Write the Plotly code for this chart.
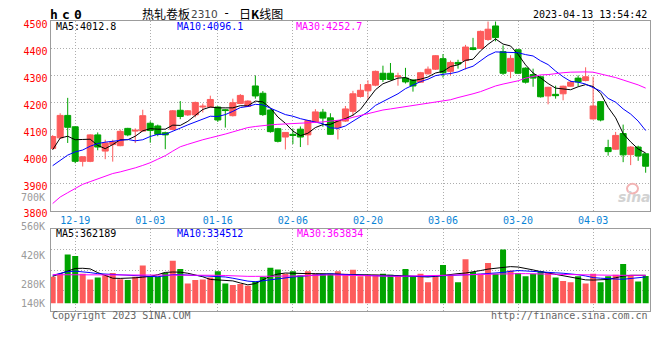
import plotly.graph_objects as go

# ---------------- data ----------------
DATES = [
    "2022-12-14", "2022-12-15", "2022-12-16", "2022-12-19", "2022-12-20", "2022-12-21", "2022-12-22", "2022-12-23",
    "2022-12-26", "2022-12-27", "2022-12-28", "2022-12-29", "2022-12-30",
    "2023-01-03", "2023-01-04", "2023-01-05", "2023-01-06", "2023-01-09", "2023-01-10", "2023-01-11", "2023-01-12",
    "2023-01-13", "2023-01-16", "2023-01-17", "2023-01-18", "2023-01-19", "2023-01-20", "2023-01-30", "2023-01-31",
    "2023-02-01", "2023-02-02", "2023-02-03", "2023-02-06", "2023-02-07", "2023-02-08", "2023-02-09", "2023-02-10",
    "2023-02-13", "2023-02-14", "2023-02-15", "2023-02-16", "2023-02-17", "2023-02-20", "2023-02-21", "2023-02-22",
    "2023-02-23", "2023-02-24", "2023-02-27", "2023-02-28",
    "2023-03-01", "2023-03-02", "2023-03-03", "2023-03-06", "2023-03-07", "2023-03-08", "2023-03-09", "2023-03-10",
    "2023-03-13", "2023-03-14", "2023-03-15", "2023-03-16", "2023-03-17", "2023-03-20", "2023-03-21", "2023-03-22",
    "2023-03-23", "2023-03-24", "2023-03-27", "2023-03-28", "2023-03-29", "2023-03-30", "2023-03-31",
    "2023-04-03", "2023-04-04", "2023-04-06", "2023-04-07", "2023-04-10", "2023-04-11", "2023-04-12", "2023-04-13",
]

OPEN = [4030, 4069, 4152, 4110, 3982, 3982, 4080, 4020, 4044, 4040, 4104, 4094, 4094,
        4123, 4113, 4088, 4100, 4171, 4154, 4154, 4183, 4183, 4183, 4173, 4151, 4196, 4185, 4261, 4234,
        4172, 4103, 4072, 4082, 4101, 4080, 4128, 4164, 4143, 4107, 4131, 4167, 4222, 4243, 4264, 4308,
        4308, 4295, 4290, 4283,
        4275, 4306, 4323, 4362, 4315, 4348, 4355, 4402, 4400, 4433, 4483, 4388, 4315, 4395, 4327, 4303,
        4295, 4224, 4230, 4232, 4260, 4290, 4281,
        4139, 4203, 4033, 4027, 4085, 4007, 4035, 4010]
HIGH = [4079, 4160, 4217, 4112, 4001, 4082, 4089, 4062, 4062, 4100, 4106, 4104, 4173,
        4130, 4118, 4092, 4172, 4205, 4172, 4203, 4196, 4225, 4186, 4176, 4214, 4231, 4208, 4299, 4242,
        4175, 4106, 4090, 4104, 4111, 4135, 4175, 4176, 4160, 4135, 4187, 4243, 4268, 4282, 4318, 4336,
        4346, 4310, 4328, 4285,
        4313, 4333, 4375, 4379, 4355, 4358, 4413, 4439, 4466, 4500, 4500, 4411, 4375, 4397, 4330, 4325,
        4298, 4258, 4262, 4262, 4282, 4300, 4330,
        4295, 4205, 4062, 4091, 4118, 4038, 4040, 4012]
LOW = [4026, 4065, 4050, 3975, 3963, 3979, 4023, 3990, 3981, 4038, 4075, 4050, 4092,
       4051, 4075, 4027, 4097, 4138, 4150, 4145, 4163, 4180, 4128, 4107, 4148, 4194, 4183, 4214, 4150,
       4088, 4052, 4026, 4046, 4035, 4042, 4126, 4110, 4080, 4063, 4128, 4150, 4218, 4213, 4260, 4276,
       4282, 4262, 4270, 4240,
       4272, 4303, 4320, 4292, 4300, 4325, 4322, 4393, 4398, 4428, 4426, 4302, 4290, 4305, 4270, 4258,
       4218, 4193, 4214, 4208, 4258, 4260, 4278,
       4137, 4130, 4003, 4025, 3979, 3968, 3984, 3940]
CLOSE = [4074, 4152, 4108, 3982, 3999, 4080, 4035, 4050, 4054, 4093, 4080, 4097, 4151,
         4096, 4082, 4080, 4169, 4148, 4169, 4200, 4186, 4211, 4135, 4170, 4199, 4226, 4205, 4224, 4155,
         4092, 4056, 4089, 4078, 4072, 4133, 4165, 4142, 4082, 4133, 4176, 4232, 4245, 4266, 4315, 4285,
         4285, 4298, 4276, 4261,
         4310, 4323, 4373, 4310, 4348, 4342, 4405, 4396, 4463, 4471, 4440, 4308, 4363, 4308, 4275, 4290,
         4221, 4256, 4225, 4260, 4275, 4276, 4295,
         4187, 4135, 4018, 4078, 4006, 4035, 4002, 3964]

MA5 = [4025, 4068, 4075, 4062, 4063, 4064, 4041, 4029, 4044, 4062, 4062, 4075, 4095,
       4103, 4101, 4101, 4116, 4115, 4130, 4153, 4174, 4183, 4180, 4180, 4180, 4188, 4187, 4205, 4202,
       4180, 4146, 4123, 4094, 4077, 4086, 4107, 4118, 4119, 4131, 4140, 4153, 4174, 4210, 4247, 4269,
       4279, 4290, 4292, 4281,
       4286, 4294, 4309, 4315, 4333, 4339, 4356, 4360, 4391, 4415, 4435, 4416, 4409, 4378, 4339, 4309,
       4291, 4270, 4253, 4250, 4247, 4258, 4266,
       4259, 4234, 4182, 4143, 4085, 4054, 4028, 4013]
MA10 = [3966, 3985, 4005, 4017, 4024, 4038, 4048, 4053, 4056, 4060, 4063, 4058, 4062,
        4074, 4082, 4082, 4095, 4105, 4117, 4127, 4138, 4149, 4148, 4155, 4167, 4181, 4185, 4193, 4191,
        4180, 4167, 4155, 4149, 4140, 4133, 4127, 4121, 4106, 4104, 4113, 4130, 4146, 4165, 4189, 4204,
        4216, 4232, 4251, 4264,
        4277, 4286, 4299, 4304, 4307, 4313, 4325, 4334, 4353, 4374, 4387, 4386, 4385, 4384, 4377, 4372,
        4354, 4340, 4316, 4295, 4278, 4275, 4268,
        4256, 4242, 4215, 4201, 4176, 4157, 4131, 4096]
MA30 = [3826, 3850, 3866, 3882, 3897, 3907, 3917, 3927, 3937, 3943, 3950, 3958, 3967,
        3977, 3990, 4003, 4020, 4036, 4045, 4054, 4062, 4069, 4075, 4083, 4091, 4099, 4107, 4111, 4115,
        4117, 4119, 4120, 4121, 4123, 4125, 4126, 4128, 4131, 4134, 4137, 4145, 4152, 4160, 4167, 4172,
        4176, 4180, 4184, 4188,
        4192, 4196, 4200, 4204, 4210, 4218, 4224, 4232, 4240, 4250, 4261, 4268, 4275, 4280, 4290, 4296,
        4302, 4303, 4307, 4310, 4312, 4313, 4313,
        4312, 4306, 4299, 4292, 4283, 4275, 4265, 4253]

VOLUME = [314500, 330000, 423000, 415000, 330000, 302000, 311000, 322000, 333000, 303000, 299000, 314500, 369000,
          317000, 314500, 334600, 392000, 353000, 283000, 299000, 302000, 311000, 341000, 283000, 275000, 280000,
          271000, 292600, 314500,
          358000, 350000, 330000, 341000, 322000, 341000, 330000, 330000, 330000, 341000, 330000, 348600, 317000,
          325000, 325000, 330000, 325000, 322000, 353000, 317000,
          330000, 288000, 317000, 372000, 322000, 288000, 400000, 338000, 330000, 381000, 330000, 446600, 345000,
          333000, 317000, 330000, 342500, 333000, 311000, 294000, 288000, 317000, 283000,
          330000, 288000, 317000, 325000, 376600, 322000, 292600, 319000]
VOL_MA5 = [317000, 330000, 340000, 355000, 356000, 353000, 335000, 322000, 308000, 307000, 307000, 310000, 313000,
           317000, 325000, 336000, 338000, 337000, 332000, 325000, 315000, 302000, 300000, 298000, 295000, 285000,
           276000, 282000, 298000,
           318000, 328000, 333000, 332000, 330000, 330000, 330000, 330000, 330000, 328000, 326000, 326000, 325000,
           325000, 325000, 323000, 322000, 321000, 320000, 318000,
           316000, 314000, 317000, 322000, 327000, 330000, 333000, 338000, 345000, 352000, 356000, 362000, 364000,
           362000, 356000, 348000, 340000, 333000, 326000, 320000, 313000, 306000, 300000,
           299000, 300000, 302000, 310000, 318000, 322000, 322000, 322000]
VOL_MA10 = [322000, 330000, 340000, 342000, 340000, 335000, 330000, 328000, 326000, 324000, 322000, 320000, 318000,
            316000, 315000, 320000, 325000, 325000, 323000, 322000, 320000, 318000, 316000, 314000, 308000, 300000,
            294000, 291000, 296000,
            302000, 306000, 310000, 314000, 317000, 320000, 322000, 325000, 329000, 327000, 325000, 323000, 322000,
            321000, 320000, 319000, 318000, 318000, 318000, 317000,
            317000, 317000, 318000, 319000, 320000, 322000, 324000, 326000, 328000, 330000, 331000, 336000, 341000,
            345000, 343000, 340000, 338000, 336000, 334000, 332000, 330000, 325000, 319000,
            311000, 308000, 305000, 304000, 303000, 306000, 310000, 314000]
VOL_MA30 = [325000, 325000, 324000, 324000, 323000, 323000, 322000, 322000, 322000, 322000, 322000, 322000, 322000,
            322000, 322000, 322000, 323000, 324000, 324000, 325000, 324000, 323000, 322000, 321000, 319000, 318000,
            317000, 317000, 317000,
            317000, 317000, 317000, 317000, 319000, 321000, 323000, 325000, 324000, 323000, 322000, 321000, 320000,
            319000, 318000, 318000, 317000, 317000, 318000, 319000,
            320000, 320000, 321000, 321000, 322000, 322000, 323000, 324000, 325000, 326000, 327000, 328000, 329000,
            330000, 330000, 330000, 329000, 328000, 327000, 326000, 325000, 324000, 323000,
            322000, 322000, 322000, 322000, 322000, 322000, 322000, 322000]

TICK_DATES = ["2022-12-19", "2023-01-03", "2023-01-16", "2023-02-06",
              "2023-02-20", "2023-03-06", "2023-03-20", "2023-04-03"]
TICK_LABELS = ["12-19", "01-03", "01-16", "02-06", "02-20", "03-06", "03-20", "04-03"]
PRICE_TICKS = [3800, 3900, 4000, 4100, 4200, 4300, 4400, 4500]
VOL_TICKS = [140000, 280000, 420000, 560000, 700000]
VOL_TICK_TEXT = ["140K", "280K", "420K", "560K", "700K"]

PRICE_MA_TEXT = ["MA5:4012.8", "MA10:4096.1", "MA30:4252.7"]
VOL_MA_TEXT = ["MA5:362189", "MA10:334512", "MA30:363834"]

# ---------------- style / layout ----------------
W, H = 660, 360
RED = "#fd5b5b"
GREEN = "#00a400"
MONO = "DejaVu Sans Mono"
CJK = "Noto Sans CJK SC"
GRID = "#adadad"
BORDER = "#9c9c9c"
DOT = "1px,2px"

VOL_BOTTOM, VOL_TOP = 151200, 543200   # volume axis range
VOL_BASE = 186700                      # volume bars are drawn up from this level


def fx(x):
    return x / W


def fy(y):
    return 1 - y / H


bar_colors = [RED if c >= o else GREEN for o, c in zip(OPEN, CLOSE)]

fig = go.Figure()

fig.add_trace(go.Candlestick(
    x=DATES, open=OPEN, high=HIGH, low=LOW, close=CLOSE,
    increasing=dict(line=dict(color=RED, width=1), fillcolor=RED),
    decreasing=dict(line=dict(color=GREEN, width=1), fillcolor=GREEN),
    whiskerwidth=0, xaxis="x", yaxis="y", hoverinfo="skip", showlegend=False,
))
for vals, col in [(MA5, "#000000"), (MA10, "#0000ff"), (MA30, "#ff00ff")]:
    fig.add_trace(go.Scatter(x=DATES, y=vals, mode="lines", line=dict(color=col, width=1),
                             xaxis="x", yaxis="y", hoverinfo="skip", showlegend=False))

fig.add_trace(go.Bar(
    x=DATES, y=[v - VOL_BASE for v in VOLUME], base=VOL_BASE,
    marker=dict(color=bar_colors, line=dict(width=0)), width=0.8,
    xaxis="x2", yaxis="y2", hoverinfo="skip", showlegend=False,
))
for vals, col in [(VOL_MA5, "#000000"), (VOL_MA10, "#0000ff"), (VOL_MA30, "#ff00ff")]:
    fig.add_trace(go.Scatter(x=DATES, y=vals, mode="lines", line=dict(color=col, width=1),
                             xaxis="x2", yaxis="y2", hoverinfo="skip", showlegend=False))

XDOM = [fx(50.5), fx(649.5)]
XRANGE = [-0.29, 79.51]
PRICE_DOM = [fy(214.7), fy(19)]
VOL_DOM = [fy(318.3), fy(234.3)]
common_x = dict(type="category", domain=XDOM, range=XRANGE, tickvals=TICK_DATES,
                showgrid=True, gridcolor=GRID, griddash=DOT, gridwidth=1,
                showline=True, linecolor=BORDER, linewidth=1, mirror=True,
                ticks="", fixedrange=True, zeroline=False)

fig.update_layout(
    width=W, height=H, autosize=False,
    margin=dict(l=0, r=0, t=0, b=0),
    paper_bgcolor="white", plot_bgcolor="white",
    showlegend=False, boxgap=0.2, boxgroupgap=0, bargap=0.2,
    xaxis=dict(**common_x, anchor="y", ticktext=TICK_LABELS,
               tickfont=dict(family=MONO, size=10, color="#0a84d6"),
               rangeslider=dict(visible=False)),
    yaxis=dict(domain=PRICE_DOM, range=[3800, 4500], tickvals=PRICE_TICKS,
               tickfont=dict(family=MONO, size=10, color="#ff0000"), ticklabelshift=3,
               showgrid=True, gridcolor=GRID, griddash=DOT, gridwidth=1,
               showline=True, linecolor=BORDER, linewidth=1, mirror=True,
               ticks="", zeroline=False, fixedrange=True),
    xaxis2=dict(**common_x, anchor="y2", matches="x", showticklabels=False),
    yaxis2=dict(domain=VOL_DOM, range=[VOL_BOTTOM, VOL_TOP],
                tickmode="linear", tick0=VOL_BOTTOM, dtick=(VOL_TOP - VOL_BOTTOM) / 4,
                showticklabels=False, showgrid=True, gridcolor=GRID, griddash=DOT, gridwidth=1,
                showline=True, linecolor=BORDER, linewidth=1, mirror=True,
                ticks="", zeroline=False, fixedrange=True),
)

ann = []


def text(t, x, y, color="#000000", size=10, family=MONO, anchor="left"):
    ann.append(dict(text=t, x=fx(x), y=fy(y), xref="paper", yref="paper", xanchor=anchor,
                    yanchor="middle", showarrow=False, font=dict(family=family, size=size, color=color)))


# header
for ch, cx in zip(["h", "c", "0"], [53.7, 66.0, 78.0]):
    text("<b>%s</b>" % ch, cx, 11.5, size=13, anchor="center")
text("热轧卷板", 140, 10.5, size=12, family=CJK)
text("2310", 189, 11, color="#444444", size=10.5, family="DejaVu Sans")
text("-", 226, 10.5, size=12, family=MONO, anchor="center")
text("日<b>K</b>线图", 237, 10.5, size=12, family=CJK)
text("2023-04-13 13:54:42", 648.5, 12, anchor="right")

# MA legends
for t, x, c in zip(PRICE_MA_TEXT, [54, 175, 294], ["#000000", "#0000ff", "#ff00ff"]):
    text(t, x, 24, color=c)
for t, x, c in zip(VOL_MA_TEXT, [54, 175, 295], ["#000000", "#0000ff", "#ff00ff"]):
    text(t, x, 238, color=c)

# volume scale labels: placed with the volume axis scale (sina lifts the lowest one to the bar floor)
for v, t in zip(VOL_TICKS, VOL_TICK_TEXT):
    frac = (v - VOL_BOTTOM) / (VOL_TOP - VOL_BOTTOM)
    ypaper = VOL_DOM[0] + frac * (VOL_DOM[1] - VOL_DOM[0])
    ann.append(dict(text=t, x=fx(47), y=ypaper, xref="paper", yref="paper", xanchor="right",
                    yanchor="middle", yshift=10 if v == VOL_TICKS[0] else 0, showarrow=False,
                    font=dict(family=MONO, size=10, color="#9a9a9a")))

# footer
text("Copyright 2023 SINA.COM", 50, 323.5, color="#666666")
text("http://finance.sina.com.cn", 649.5, 323.5, color="#666666", anchor="right")

# sina watermark
text("<b><i>sina</i></b>", 634, 201, color="#d2d2d2", size=14, family="DejaVu Sans", anchor="center")

fig.update_layout(annotations=ann)
fig.add_shape(type="circle", xref="paper", yref="paper",
              x0=fx(627), x1=fx(638), y0=fy(197), y1=fy(187),
              line=dict(color="#f2b4b4", width=2), fillcolor="rgba(0,0,0,0)")

fig.write_html("out.html", config={"displayModeBar": False},
               post_script="document.body.style.margin='0px';document.body.style.padding='0px';"
                           "document.body.style.overflow='hidden';")
